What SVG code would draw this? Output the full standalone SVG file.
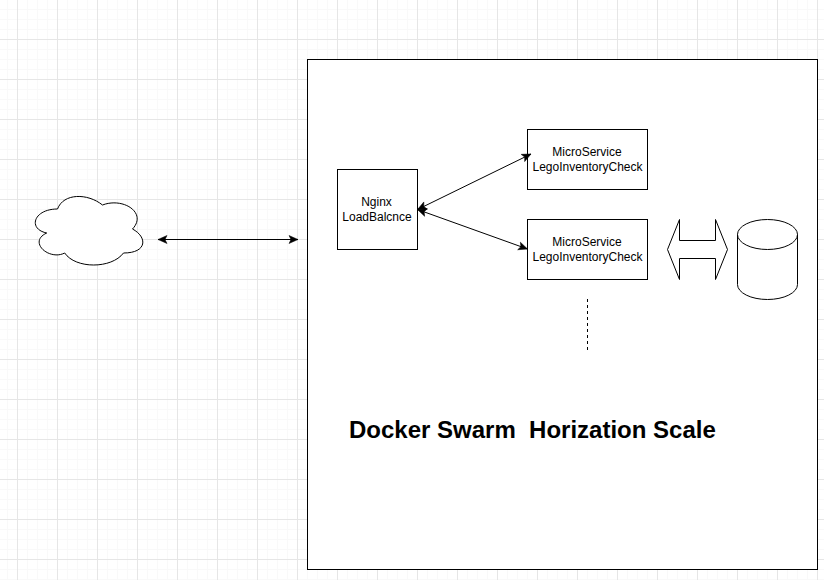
<svg xmlns="http://www.w3.org/2000/svg" width="824" height="580" viewBox="0 0 824 580">
<style>
.s{fill:#fff;stroke:#000;stroke-width:1}
.c{fill:none;stroke:#000;stroke-width:1}
.t{font-family:"Liberation Sans",Arial,sans-serif;font-size:12px;fill:#000;text-anchor:middle}
.h{font-family:"Liberation Sans",Arial,sans-serif;font-size:24px;font-weight:bold;fill:#000;white-space:pre}
</style>
<defs>
<pattern id="grid" x="17" y="39" width="40" height="40" patternUnits="userSpaceOnUse">
<path d="M0.5 0V40M10.5 0V40M20.5 0V40M30.5 0V40M0 0.5H40M0 10.5H40M0 20.5H40M0 30.5H40" fill="none" stroke="#f9f9f9" stroke-width="1"/>
<path d="M0.5 0V40M0 0.5H40" fill="none" stroke="#e6e6e6" stroke-width="1"/>
</pattern>
<marker id="end" markerUnits="userSpaceOnUse" markerWidth="10" markerHeight="10" refX="9" refY="4" orient="auto" overflow="visible">
<path d="M0 0L9 4L0 8L2 4Z" fill="#000" stroke="#000" stroke-width="0.5"/>
</marker>
<marker id="start" markerUnits="userSpaceOnUse" markerWidth="10" markerHeight="10" refX="0" refY="4" orient="auto" overflow="visible">
<path d="M9 0L0 4L9 8L7 4Z" fill="#000" stroke="#000" stroke-width="0.5"/>
</marker>
</defs>
<rect width="824" height="580" fill="#fff"/>
<rect width="824" height="580" fill="url(#grid)"/>
<g id="swarm"><rect class="s" x="307.5" y="59.5" width="510" height="510"/></g>
<g id="cloud"><path class="s" transform="translate(-12.5,159)" d="M70 50C46 50 40 70 59.2 74C40 82.8 61.6 102 77.2 94C88 110 124 110 136 94C160 94 160 78 145 70C160 54 136 38 115 46C100 34 76 34 70 50Z"/></g>
<g id="nginx"><rect class="s" x="337.5" y="169.5" width="80" height="80"/>
<text class="t" x="376.5" y="206">Nginx</text><text class="t" x="377" y="221">LoadBalcnce</text></g>
<g id="service1"><rect class="s" x="527.5" y="129.5" width="120" height="60"/>
<text class="t" x="587" y="156">MicroService</text><text class="t" x="587.5" y="171">LegoInventoryCheck</text></g>
<g id="service2"><rect class="s" x="527.5" y="219.5" width="120" height="60"/>
<text class="t" x="587" y="246">MicroService</text><text class="t" x="587.5" y="261">LegoInventoryCheck</text></g>
<g id="double-arrow"><path class="s" d="M667.5 249.5L679.5 219.5V240.5H715.5V219.5L727.5 249.5L715.5 279.5V258.5H679.5V279.5Z"/></g>
<g id="database"><path class="s" d="M737.5 234.5A30 15 0 0 1 797.5 234.5V284.5A30 15 0 0 1 737.5 284.5Z"/><path class="c" d="M737.5 234.5A30 15 0 0 0 797.5 234.5"/></g>
<g id="title"><text class="h" x="349" y="438" xml:space="preserve">Docker Swarm  Horization Scale</text></g>
<g id="connectors">
<line class="c" x1="158" y1="239.5" x2="298" y2="239.5" marker-start="url(#start)" marker-end="url(#end)"/>
<line class="c" x1="417.5" y1="209.5" x2="531" y2="154" marker-start="url(#start)" marker-end="url(#end)"/>
<line class="c" x1="417.5" y1="209.5" x2="527.5" y2="249" marker-start="url(#start)" marker-end="url(#end)"/>
<line class="c" x1="587.5" y1="299" x2="587.5" y2="350" stroke-dasharray="3 3"/>
</g>
</svg>
